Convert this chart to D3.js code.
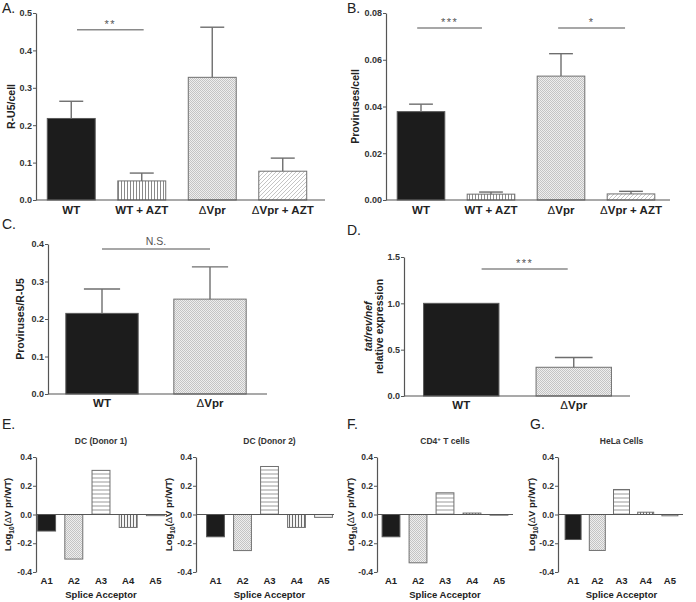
<!DOCTYPE html>
<html>
<head>
<meta charset="utf-8">
<script src="https://cdn.jsdelivr.net/npm/d3@7.9.0/dist/d3.min.js"></script>
<style>
  body { margin: 0; background: #fff; }
  svg { font-family: "Liberation Sans", Arial, sans-serif; }
</style>
</head>
<body>
<script>
// --- data ---
const groupsAB = ['WT', 'WT + AZT', 'ΔVpr', 'ΔVpr + AZT'];
const ru5Mean = [0.218, 0.051, 0.328, 0.077];
const ru5Err = [0.046, 0.021, 0.134, 0.035];
const provMean = [0.0378, 0.0025, 0.0530, 0.0026];
const provErr = [0.0032, 0.0009, 0.0096, 0.0011];

const groupsCD = ['WT', 'ΔVpr'];
const ratioMean = [0.215, 0.253];
const ratioErr = [0.065, 0.086];
const tatMean = [1.0, 0.31];
const tatErr = [0, 0.105];

const acceptors = ['A1', 'A2', 'A3', 'A4', 'A5'];
const dcDonor1 = [-0.115, -0.310, 0.307, -0.090, -0.008];
const dcDonor2 = [-0.155, -0.251, 0.334, -0.090, -0.020];
const cd4Cells = [-0.155, -0.336, 0.151, 0.010, -0.005];
const helaCells = [-0.174, -0.250, 0.174, 0.016, -0.009];

const svg = d3.select('body').append('svg').attr('width', 696).attr('height', 602);

// --- patterns ---
const defs = svg.append('defs');
function stripePattern(id, w, h, lines, color, bg) {
  const p = defs.append('pattern').attr('id', id).attr('patternUnits', 'userSpaceOnUse')
    .attr('width', w).attr('height', h);
  p.append('rect').attr('width', w).attr('height', h).attr('fill', bg);
  lines.forEach(l => p.append('line').attr('x1', l[0]).attr('y1', l[1]).attr('x2', l[2]).attr('y2', l[3])
    .attr('stroke', color).attr('stroke-width', 1));
}
stripePattern('vstripe', 3, 3, [[1.5, 0, 1.5, 3]], '#8a8a8a', '#fff');
stripePattern('vstripe2', 3, 3, [[1.5, 0, 1.5, 3]], '#6a6a6a', '#f4f4f4');
stripePattern('hstripe', 4, 4, [[0, 2, 4, 2]], '#9a9a9a', '#fff');
stripePattern('diag', 4, 4, [[0, 4, 4, 0], [-1, 1, 1, -1], [3, 5, 5, 3]], '#c4c4c4', '#fff');
const chk = defs.append('pattern').attr('id', 'check').attr('patternUnits', 'userSpaceOnUse')
  .attr('width', 2).attr('height', 2);
chk.append('rect').attr('width', 2).attr('height', 2).attr('fill', '#eeeeee');
chk.append('rect').attr('width', 1).attr('height', 1).attr('fill', '#c4c4c4');
chk.append('rect').attr('x', 1).attr('y', 1).attr('width', 1).attr('height', 1).attr('fill', '#c4c4c4');

const fillOf = {
  solid: '#1c1c1c', vstripe: 'url(#vstripe)', vstripe2: 'url(#vstripe2)',
  hstripe: 'url(#hstripe)', diag: 'url(#diag)', check: 'url(#check)', plain: '#f0f0f0'
};

const minusFix = f => d => f(d).replace('−', '-');

// label with a normal-weight delta in front
function catLabel(sel, txt) {
  if (txt.startsWith('Δ')) {
    sel.append('tspan').attr('font-weight', 'normal').text('Δ');
    sel.append('tspan').text(txt.slice(1));
  } else sel.text(txt);
}

// --- one bar panel ---
function barPanel(o) {
  const g = svg.append('g');
  const y = d3.scaleLinear().domain(o.domain).range([o.yBot, o.yTop]);
  const x = d3.scaleBand().domain(o.cats).range(o.xRange).paddingInner(o.padIn).paddingOuter(o.padIn / 2);
  const y0 = y(0);

  // bars
  o.values.forEach((v, i) => {
    g.append('rect')
      .attr('x', x(o.cats[i])).attr('width', x.bandwidth())
      .attr('y', Math.min(y(v), y0)).attr('height', Math.abs(y(v) - y0))
      .attr('fill', fillOf[o.fills[i]])
      .attr('stroke', o.fills[i] === 'solid' ? '#5a5a5a' : '#707070').attr('stroke-width', 1);
  });

  // error bars (upper only)
  if (o.errs) {
    o.errs.forEach((e, i) => {
      if (!e) return;
      const cx = x(o.cats[i]) + x.bandwidth() / 2;
      const top = y(o.values[i] + e);
      g.append('line').attr('x1', cx).attr('x2', cx).attr('y1', y(o.values[i])).attr('y2', top)
        .attr('stroke', '#6e6e6e').attr('stroke-width', 1.4);
      g.append('line').attr('x1', cx - x.bandwidth() / 4).attr('x2', cx + x.bandwidth() / 4)
        .attr('y1', top).attr('y2', top).attr('stroke', '#6e6e6e').attr('stroke-width', 1.4);
    });
  }

  // baseline
  g.append('line').attr('x1', o.axisX).attr('x2', o.lineEnd).attr('y1', y0).attr('y2', y0)
    .attr('stroke', '#555').attr('stroke-width', 1.2);

  // y axis
  const ax = g.append('g').attr('transform', `translate(${o.axisX},0)`)
    .call(d3.axisLeft(y).tickValues(o.ticks).tickFormat(minusFix(d3.format(o.fmt))).tickSize(3).tickSizeOuter(0).tickPadding(1));
  ax.select('.domain').attr('stroke', '#555').attr('stroke-width', 1.2);
  ax.selectAll('.tick line').attr('stroke', '#555');
  ax.selectAll('.tick text').attr('font-size', o.tickSize).attr('font-weight', 'bold').attr('fill', '#333')
    .attr('font-family', '"Liberation Sans", Arial, sans-serif');

  // category labels
  o.cats.forEach(c => {
    const t = g.append('text').attr('x', x(c) + x.bandwidth() / 2).attr('y', o.labelY)
      .attr('text-anchor', 'middle').attr('font-size', o.catSize).attr('font-weight', 'bold').attr('fill', '#222');
    catLabel(t, c);
  });

  // significance lines
  (o.sig || []).forEach(s => {
    const xa = x(o.cats[s.from[0]]) + s.from[1] * x.bandwidth();
    const xb = x(o.cats[s.to[0]]) + s.to[1] * x.bandwidth();
    g.append('line').attr('x1', xa).attr('x2', xb).attr('y1', y(s.at)).attr('y2', y(s.at))
      .attr('stroke', '#8a8a8a').attr('stroke-width', 1.5);
    g.append('text').attr('x', (xa + xb) / 2).attr('y', y(s.at) - (s.label === 'N.S.' ? 4 : 2))
      .attr('text-anchor', 'middle').attr('font-size', s.label === 'N.S.' ? 10.5 : 11)
      .attr('fill', '#555').attr('letter-spacing', s.label === 'N.S.' ? 0 : 1.5).text(s.label);
  });

  // y title
  const midY = (o.yTop + o.yBot) / 2;
  if (o.yTitle === 'log') {
    const t = g.append('text').attr('transform', `translate(${o.titleX},${midY}) rotate(-90)`)
      .attr('text-anchor', 'middle').attr('font-size', 9.5).attr('font-weight', 'bold').attr('fill', '#222');
    t.append('tspan').text('Log');
    t.append('tspan').attr('font-size', 6.5).attr('dy', 3).text('10');
    t.append('tspan').attr('dy', -3).text('(');
    t.append('tspan').attr('font-weight', 'normal').text('Δ');
    t.append('tspan').text('V pr/WT)');
  } else if (o.yTitle === 'tat') {
    g.append('text').attr('transform', `translate(${o.titleX},${midY}) rotate(-90)`)
      .attr('text-anchor', 'middle').attr('font-size', 10.5).attr('font-weight', 'bold').attr('fill', '#222')
      .attr('font-style', 'italic').text('tat/rev/nef');
    g.append('text').attr('transform', `translate(${o.titleX + 11},${midY}) rotate(-90)`)
      .attr('text-anchor', 'middle').attr('font-size', 10.5).attr('font-weight', 'bold').attr('fill', '#222')
      .text('relative expression');
  } else {
    g.append('text').attr('transform', `translate(${o.titleX},${midY}) rotate(-90)`)
      .attr('text-anchor', 'middle').attr('font-size', 10.5).attr('font-weight', 'bold').attr('fill', '#222')
      .text(o.yTitle);
  }

  // panel title and x title (splice panels)
  if (o.title) {
    const cx = (o.xRange[0] + o.xRange[1]) / 2;
    const t = g.append('text').attr('x', cx).attr('y', 444).attr('text-anchor', 'middle')
      .attr('font-size', 8.5).attr('font-weight', 'bold').attr('fill', '#333');
    if (o.title === 'CD4') {
      t.append('tspan').text('CD4');
      t.append('tspan').attr('font-size', 6).attr('dy', -3).text('+');
      t.append('tspan').attr('dy', 3).text(' T cells');
    } else t.text(o.title);
    g.append('text').attr('x', cx).attr('y', 598).attr('text-anchor', 'middle')
      .attr('font-size', 9.5).attr('font-weight', 'bold').attr('fill', '#222').text('Splice Acceptor');
  }
}

// panel letters
[['A.', 2, 13], ['B.', 347, 13], ['C.', 2, 229], ['D.', 347, 235],
 ['E.', 2, 429], ['F.', 347, 429], ['G.', 530, 429]].forEach(([t, x, yy]) => {
  svg.append('text').attr('x', x).attr('y', yy).attr('font-size', 14).attr('fill', '#222').text(t);
});

// --- A ---
barPanel({
  cats: groupsAB, values: ru5Mean, errs: ru5Err, fills: ['solid', 'vstripe', 'check', 'diag'],
  domain: [0, 0.5], ticks: [0, 0.1, 0.2, 0.3, 0.4, 0.5], fmt: '.1f',
  yTop: 13, yBot: 200, axisX: 36, xRange: [36, 318], padIn: 0.32, lineEnd: 325,
  labelY: 214, tickSize: 9, catSize: 11.5, yTitle: 'R-U5/cell', titleX: 15,
  sig: [{ from: [0, 0.62], to: [1, 0.54], at: 0.455, label: '**' }]
});

// --- B ---
barPanel({
  cats: groupsAB, values: provMean, errs: provErr, fills: ['solid', 'vstripe', 'check', 'diag'],
  domain: [0, 0.08], ticks: [0, 0.02, 0.04, 0.06, 0.08], fmt: '.2f',
  yTop: 13, yBot: 200, axisX: 386, xRange: [386, 666], padIn: 0.32, lineEnd: 670,
  labelY: 214, tickSize: 9, catSize: 11.5, yTitle: 'Proviruses/cell', titleX: 359,
  sig: [{ from: [0, 0.42], to: [1, 0.31], at: 0.0736, label: '***' },
        { from: [2, 0.44], to: [3, 0.375], at: 0.0736, label: '*' }]
});

// --- C ---
barPanel({
  cats: groupsCD, values: ratioMean, errs: ratioErr, fills: ['solid', 'check'],
  domain: [0, 0.4], ticks: [0, 0.1, 0.2, 0.3, 0.4], fmt: '.1f',
  yTop: 244, yBot: 394, axisX: 48, xRange: [48, 264], padIn: 0.33, lineEnd: 267,
  labelY: 407, tickSize: 9, catSize: 11.5, yTitle: 'Proviruses/R-U5', titleX: 24,
  sig: [{ from: [0, 0.5], to: [1, 0.5], at: 0.387, label: 'N.S.' }]
});

// --- D ---
barPanel({
  cats: groupsCD, values: tatMean, errs: tatErr, fills: ['solid', 'check'],
  domain: [0, 1.5], ticks: [0, 0.5, 1.0, 1.5], fmt: '.1f',
  yTop: 257, yBot: 396, axisX: 404, xRange: [405, 630], padIn: 0.33, lineEnd: 630,
  labelY: 409, tickSize: 9, catSize: 11.5, yTitle: 'tat', titleX: 372,
  sig: [{ from: [0, 0.77], to: [1, 0.42], at: 1.37, label: '***' }]
});

// --- E, F, G ---
const spliceFills = ['solid', 'check', 'hstripe', 'vstripe2', 'plain'];
const spliceBase = {
  cats: acceptors, fills: spliceFills, domain: [-0.4, 0.4], ticks: [-0.4, -0.2, 0, 0.2, 0.4], fmt: '.1f',
  yTop: 457, yBot: 572, padIn: 0.34, labelY: 584, tickSize: 8.5, catSize: 9.5, yTitle: 'log'
};
barPanel(Object.assign({}, spliceBase, {
  values: dcDonor1, axisX: 36, xRange: [33, 169], lineEnd: 167, titleX: 11, title: 'DC (Donor 1)'
}));
barPanel(Object.assign({}, spliceBase, {
  values: dcDonor2, axisX: 196, xRange: [202, 337], lineEnd: 334, titleX: 172, title: 'DC (Donor 2)'
}));
barPanel(Object.assign({}, spliceBase, {
  values: cd4Cells, axisX: 377, xRange: [377.5, 512.5], lineEnd: 513, titleX: 354, title: 'CD4'
}));
barPanel(Object.assign({}, spliceBase, {
  values: helaCells, axisX: 558, xRange: [561, 682], lineEnd: 683, titleX: 535, title: 'HeLa Cells'
}));
</script>
</body>
</html>
